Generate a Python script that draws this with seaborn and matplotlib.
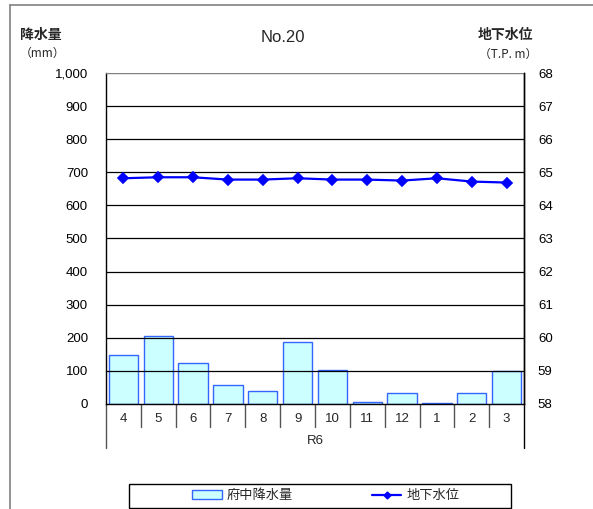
import matplotlib
matplotlib.use("Agg")
import matplotlib.pyplot as plt
from matplotlib.patches import Rectangle
from matplotlib.lines import Line2D
from matplotlib.ticker import FuncFormatter, MultipleLocator
import pandas as pd
import seaborn as sns

# Monthly data, fiscal year R6 (April to March)
months = ["4", "5", "6", "7", "8", "9", "10", "11", "12", "1", "2", "3"]
rainfall_mm = [148, 206, 123, 57, 40, 188, 102, 6, 33, 2, 33, 99]
groundwater_tp = [64.82, 64.85, 64.85, 64.78, 64.78, 64.82, 64.78, 64.78, 64.75, 64.82, 64.72, 64.69]
year_label = "R6"
title = "No.20"
rain_name = "府中降水量"
level_name = "地下水位"

sns.set_theme(style="white")
FONT = ["Liberation Sans", "Noto Sans CJK JP", "DejaVu Sans"]
CJK = ["Noto Sans CJK JP", "Liberation Sans", "DejaVu Sans"]
plt.rcParams["font.family"] = FONT

df = pd.DataFrame({"month": months, "rain": rainfall_mm, "level": groundwater_tp})

W, H = 593, 509
fig = plt.figure(figsize=(W / 100, H / 100), dpi=100)
L, R, T, B = 106, 524, 73, 404
ax = fig.add_axes([L / W, 1 - B / H, (R - L) / W, (B - T) / H])

BAR_FACE = "#CCFFFF"
BAR_EDGE = "#3366FF"
LINE_COL = "#0000FF"

sns.barplot(data=df, x="month", y="rain", order=months, ax=ax,
            color=BAR_FACE, saturation=1, width=0.84,
            edgecolor=BAR_EDGE, linewidth=1.0, zorder=2)
ax.set_ylim(0, 1000)
ax.yaxis.set_major_locator(MultipleLocator(100))
ax.yaxis.set_major_formatter(FuncFormatter(lambda v, p: f"{int(v):,}"))
ax.set_xlabel("")
ax.set_ylabel("")
ax.set_xticks([])
ax.tick_params(axis="y", length=0, pad=13, labelsize=9.5, colors="black")
for v in range(100, 1000, 100):
    ax.axhline(v, color="black", lw=0.9, zorder=3)
ax.axhline(1000, color="#808080", lw=1.0, zorder=3)
for s in ["left", "bottom", "right"]:
    ax.spines[s].set_color("black")
    ax.spines[s].set_linewidth(1.0)
ax.spines["top"].set_visible(False)

ax2 = ax.twinx()
sns.pointplot(data=df, x="month", y="level", order=months, ax=ax2,
              color=LINE_COL, markers="D", markersize=5, linewidth=1.6,
              zorder=5)
ax2.set_ylim(58, 68)
ax2.yaxis.set_major_locator(MultipleLocator(1))
ax2.set_ylabel("")
ax2.set_xlabel("")
ax2.set_xticks([])
ax2.tick_params(axis="y", length=0, pad=10, labelsize=9.5, colors="black")
for s in ["left", "top", "bottom"]:
    ax2.spines[s].set_visible(False)
ax2.spines["right"].set_color("black")
ax2.spines["right"].set_linewidth(1.0)

# Category table under the axis
tr = ax.get_xaxis_transform()
n = len(months)
sep = -23 / (B - T)
outer = -44 / (B - T)
for i in range(1, n):
    ax.plot([i - 0.5, i - 0.5], [0, sep], transform=tr, color="#555555",
            lw=1.0, clip_on=False)
ax.plot([-0.5, -0.5], [0, outer], transform=tr, color="#555555", lw=1.0, clip_on=False)
ax.plot([n - 0.5, n - 0.5], [0, outer], transform=tr, color="black", lw=1.0, clip_on=False)
for i, m in enumerate(months):
    ax.text(i, -15 / (B - T), m, transform=tr, ha="center", va="center", fontsize=9.5)
ax.text((n - 1) / 2, -37 / (B - T), year_label, transform=tr, ha="center",
        va="center", fontsize=9.5)
ax.set_xlim(-0.5, n - 0.5)

# Titles and axis captions
def ftext(x, y, s, **kw):
    fig.text(x / W, 1 - y / H, s, **kw)

ftext(283, 37, title, ha="center", va="center", fontsize=12)
ftext(41, 35, "降水量", ha="center", va="center", fontsize=10, fontweight="bold")
ftext(42, 53, "（mm）", ha="center", va="center", fontsize=8.5, family=CJK)
ftext(505, 35, "地下水位", ha="center", va="center", fontsize=10, fontweight="bold")
ftext(508, 54, "（T.P. m）", ha="center", va="center", fontsize=8.5, family=CJK)

# Outer frame (left and top edges)
fig.add_artist(Line2D([10 / W, 10 / W], [0, 1 - 5 / H], color="#808080", lw=1.2))
fig.add_artist(Line2D([10 / W, 1], [1 - 5 / H, 1 - 5 / H], color="#808080", lw=1.2))

# Legend box
fig.add_artist(Rectangle((129 / W, 1 - 508 / H), (511 - 129) / W, (508 - 484) / H,
                         transform=fig.transFigure, fill=False, edgecolor="black", lw=1.0))
handles = [
    Rectangle((0, 0), 1, 1, facecolor=BAR_FACE, edgecolor=BAR_EDGE, lw=1.0),
    Line2D([0], [0], color=LINE_COL, lw=1.6, marker="D", markersize=3.5),
]
fig.legend(handles, [rain_name, level_name], loc="center",
           bbox_to_anchor=(326 / W, 1 - 496 / H), ncol=2, frameon=False,
           fontsize=9.5, handlelength=2.2, handleheight=0.6, columnspacing=6.0,
           handletextpad=0.4)

fig.savefig("out.png", dpi=100)
